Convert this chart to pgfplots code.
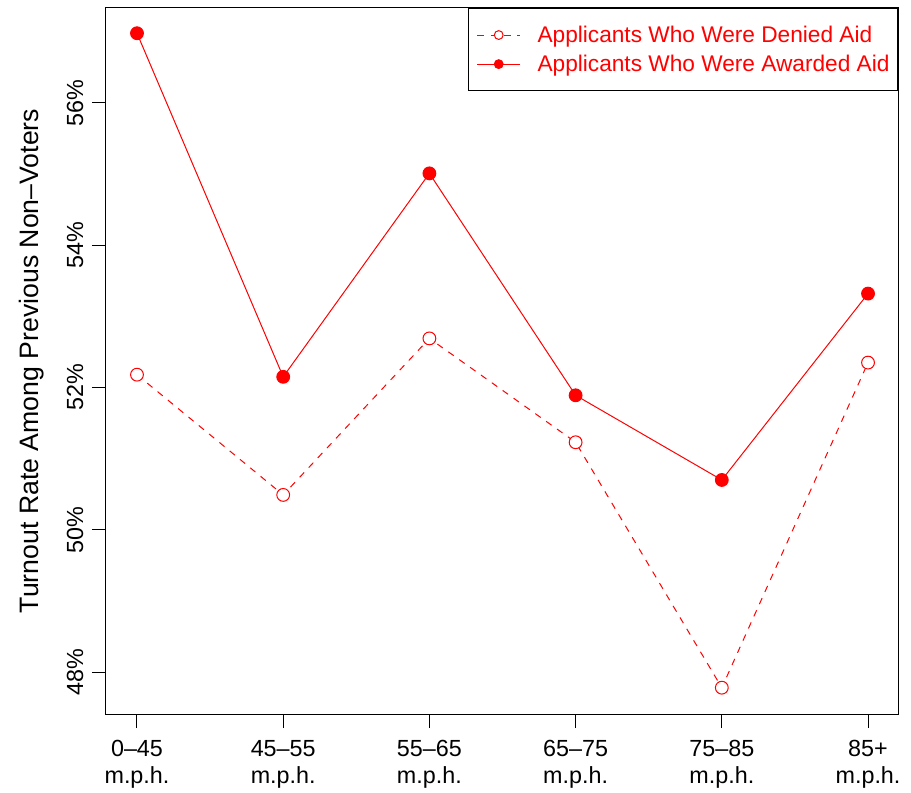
\documentclass[border=0pt]{standalone}
\usepackage{pgfplots}
\pgfplotsset{compat=1.18}
\usepackage{fontspec}
\setmainfont{Liberation Sans}
\definecolor{rred}{RGB}{255,0,0}
\begin{document}
\begin{tikzpicture}
\begin{axis}[
  at={(0,0)}, anchor=south west,
  scale only axis,
  width=594pt, height=529.5pt,
  xmin=0.788, xmax=6.205,
  ymin=47.41, ymax=57.335,
  axis line style={line width=0.75pt},
  every tick/.style={black, line width=0.75pt},
  tick align=outside,
  major tick length=10.5pt,
  xtick pos=bottom, ytick pos=left,
  xtick={1,2,3,4,5,6},
  xticklabels={{0--45\\m.p.h.},{45--55\\m.p.h.},{55--65\\m.p.h.},{65--75\\m.p.h.},{75--85\\m.p.h.},{85+\\m.p.h.}},
  xticklabel style={font=\fontsize{17.5}{20.3}\selectfont, align=center, anchor=north, yshift=-5.5pt},
  ytick={48,50,52,54,56},
  yticklabels={48\%,50\%,52\%,54\%,56\%},
  yticklabel style={font=\fontsize{17.5}{20}\selectfont, rotate=90, anchor=south, yshift=3pt},
  ylabel={Turnout Rate Among Previous Non--Voters},
  ylabel style={font=\fontsize{20}{24}\selectfont, at={(axis description cs:-0.0846,0.5)}, anchor=base},
  legend style={at={(1,1)}, anchor=north east, draw=black, line width=0.75pt,
    font=\fontsize{17}{20}\selectfont, text=rred, inner xsep=6pt, inner ysep=13pt,
    nodes={inner sep=0pt},
    row sep=8pt, /tikz/every odd column/.style={column sep=12.75pt}},
  legend cell align=left,
  legend image code/.code={\draw[mark repeat=2, mark phase=2, #1, mark size=3.3pt] plot coordinates {(0pt,0pt) (16pt,0pt) (32pt,0pt)};},
]
\addplot[rred, line width=0.75pt, dash pattern=on 5pt off 5pt, mark=*, mark size=4.8pt,
  mark options={solid, fill=white, draw=rred}] coordinates {
  (1,52.18) (2,50.49) (3,52.69) (4,51.23) (5,47.78) (6,52.35)};
\addlegendentry{Applicants Who Were Denied Aid}
\addplot[rred, line width=0.75pt, mark=*, mark size=4.8pt,
  mark options={solid, fill=rred, draw=rred}] coordinates {
  (1,56.98) (2,52.15) (3,55.01) (4,51.89) (5,50.70) (6,53.32)};
\addlegendentry{Applicants Who Were Awarded Aid}
\end{axis}
\pgfresetboundingbox
\path (-79.5pt,-59.25pt) rectangle (603.75pt,535.5pt);
\end{tikzpicture}
\end{document}
